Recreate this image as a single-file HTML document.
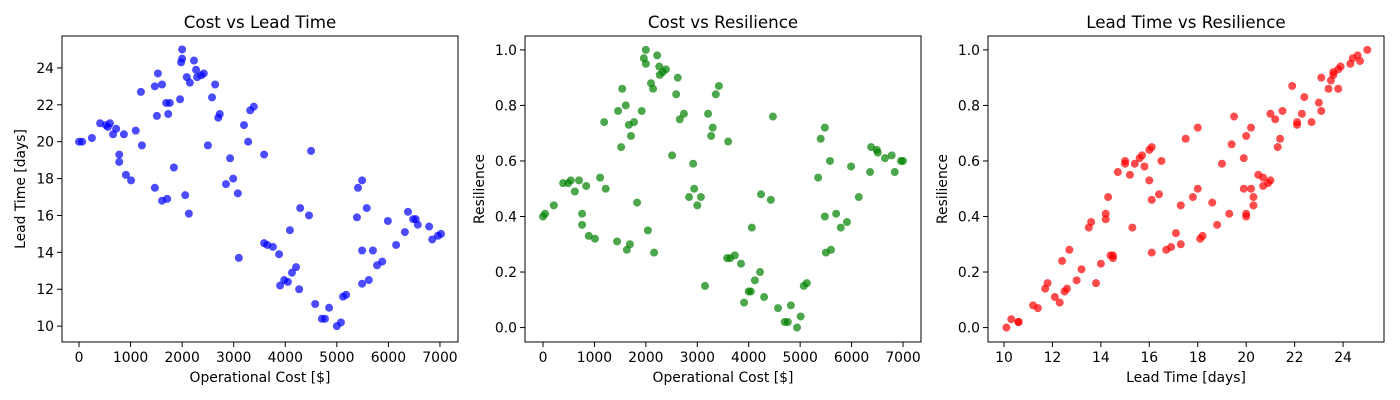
<!DOCTYPE html>
<html><head><meta charset="utf-8">
<style>
html,body{margin:0;padding:0;background:#fff;}
svg{display:block;font-family:"DejaVu Sans","Liberation Sans",sans-serif;}
</style></head>
<body>
<svg id="fig" width="1400" height="400" viewBox="0 0 1400 400"></svg>
<script>
// Panel 1: Cost vs Lead Time
const p1Cost=[0,60,250,410,520,600,560,660,720,780,780,870,910,1010,1100,1220,1200,1470,1510,1470,1530,1610,1610,1690,1710,1730,1760,1840,1960,2000,1980,2000,2060,2090,2130,2150,2230,2270,2290,2370,2420,2500,2580,2640,2700,2730,2850,2930,2990,3080,3100,3200,3280,3320,3390,3590,3590,3650,3760,3880,3900,3980,4050,4090,4130,4210,4270,4290,4460,4500,4580,4710,4770,4850,5000,5080,5120,5180,5390,5410,5490,5490,5490,5580,5620,5700,5780,5880,5990,6150,6320,6380,6480,6530,6570,6790,6850,6960,7020];
const p1Lead=[20.0,20.0,20.2,21.0,20.9,21.0,20.8,20.4,20.7,19.3,18.9,20.4,18.2,17.9,20.6,19.8,22.7,17.5,21.4,23.0,23.7,23.1,16.8,22.1,16.9,21.5,22.1,18.6,22.3,24.5,24.3,25.0,17.1,23.5,16.1,23.2,24.4,23.9,23.5,23.6,23.7,19.8,22.4,23.1,21.3,21.5,17.7,19.1,18.0,17.2,13.7,20.9,20.0,21.7,21.9,19.3,14.5,14.4,14.3,13.9,12.2,12.5,12.4,15.2,12.9,13.2,12.0,16.4,16.0,19.5,11.2,10.4,10.4,11.0,10.0,10.2,11.6,11.7,15.9,17.5,17.9,14.1,12.3,16.4,12.5,14.1,13.3,13.5,15.7,14.4,15.1,16.2,15.8,15.8,15.5,15.4,14.7,14.9,15.0];
// Panel 2: Cost vs Resilience
const p2Cost=[0,40,210,390,490,540,620,700,760,760,840,890,1010,1110,1220,1190,1440,1460,1520,1540,1610,1630,1670,1690,1710,1770,1830,1920,1960,2000,2000,2040,2100,2140,2160,2220,2260,2270,2330,2390,2510,2590,2620,2660,2740,2840,2920,2940,3000,3070,3150,3210,3270,3300,3360,3420,3600,3580,3640,3730,3850,3910,4000,4040,4060,4120,4220,4240,4300,4430,4470,4570,4700,4760,4820,4940,5010,5070,5130,5350,5400,5480,5480,5500,5580,5600,5700,5790,5910,5990,6140,6360,6380,6490,6510,6650,6780,6840,6960,7000];
const p2Res=[0.40,0.41,0.44,0.52,0.52,0.53,0.49,0.53,0.41,0.37,0.51,0.33,0.32,0.54,0.50,0.74,0.31,0.78,0.65,0.86,0.80,0.28,0.73,0.30,0.69,0.74,0.45,0.78,0.97,1.0,0.95,0.35,0.88,0.86,0.27,0.98,0.94,0.91,0.92,0.93,0.62,0.84,0.90,0.75,0.77,0.47,0.59,0.50,0.44,0.47,0.15,0.77,0.69,0.72,0.84,0.87,0.67,0.25,0.25,0.26,0.23,0.09,0.13,0.13,0.36,0.17,0.20,0.48,0.11,0.46,0.76,0.07,0.02,0.02,0.08,0.0,0.04,0.15,0.16,0.54,0.68,0.72,0.40,0.27,0.60,0.28,0.41,0.36,0.38,0.58,0.47,0.56,0.65,0.64,0.63,0.61,0.62,0.56,0.60,0.60];
// Panel 3: Lead Time vs Resilience
const p3Lead=[10.1,10.3,10.6,10.6,11.2,11.4,11.7,11.8,12.1,12.3,12.4,12.5,12.6,12.7,13.0,13.2,13.5,13.6,13.8,14.0,14.2,14.2,14.3,14.4,14.5,14.5,14.7,15.0,15.0,15.2,15.3,15.4,15.6,15.7,15.8,16.0,16.0,16.1,16.1,16.1,16.4,16.5,16.7,16.9,17.1,17.3,17.3,17.5,17.8,18.0,18.0,18.1,18.2,18.6,18.8,19.0,19.3,19.4,19.5,19.9,19.9,20.0,20.0,20.0,20.2,20.2,20.3,20.3,20.5,20.7,20.7,20.9,21.0,21.0,21.2,21.3,21.4,21.5,21.9,22.1,22.1,22.3,22.4,22.7,23.0,23.1,23.1,23.4,23.5,23.6,23.6,23.8,23.8,23.9,24.3,24.4,24.6,24.7,25.0];
const p3Res=[0.0,0.03,0.02,0.02,0.08,0.07,0.14,0.16,0.11,0.09,0.24,0.13,0.14,0.28,0.17,0.21,0.36,0.38,0.16,0.23,0.41,0.39,0.47,0.26,0.25,0.26,0.56,0.59,0.60,0.55,0.36,0.59,0.61,0.62,0.58,0.64,0.53,0.65,0.46,0.27,0.48,0.60,0.28,0.29,0.34,0.44,0.30,0.68,0.47,0.72,0.50,0.32,0.33,0.45,0.37,0.59,0.41,0.66,0.76,0.61,0.50,0.40,0.41,0.69,0.50,0.72,0.44,0.47,0.55,0.54,0.51,0.52,0.53,0.77,0.75,0.65,0.68,0.78,0.87,0.74,0.73,0.77,0.83,0.74,0.81,0.78,0.90,0.86,0.89,0.91,0.92,0.93,0.86,0.94,0.95,0.97,0.98,0.96,1.0];
const costTicks=[0,1000,2000,3000,4000,5000,6000,7000];
const leadTicks=[10,12,14,16,18,20,22,24];
const resTicks=[0.0,0.2,0.4,0.6,0.8,1.0];

const NS='http://www.w3.org/2000/svg';
const svg=document.getElementById('fig');
function mk(tag,attrs,parent){const e=document.createElementNS(NS,tag);for(const k in attrs)e.setAttribute(k,attrs[k]);(parent||svg).appendChild(e);return e;}

const axTop=36,axBot=342;
function panel(o){
  const g=mk('g',{});
  
  
  const sx=v=>o.left+(v-o.xmin)/(o.xmax-o.xmin)*(o.right-o.left);
  const sy=v=>axBot-(v-o.ymin)/(o.ymax-o.ymin)*(axBot-axTop);
  const pg=mk('g',{},g);
  
  
  for(let i=0;i<o.xs.length;i++){
    const c=mk('circle',{cx:sx(o.xs[i]),cy:sy(o.ys[i]),r:4,fill:o.color,'fill-opacity':0.7},pg);
    
    
  }
  const fr=mk('rect',{x:o.left,y:axTop,width:o.right-o.left,height:axBot-axTop,fill:'none',stroke:'#000','stroke-width':1},g);
  
  
  o.xt.forEach(v=>{
    const x=sx(v);
    mk('line',{x1:x,x2:x,y1:axBot,y2:axBot+5,stroke:'#000'},g);
    const t=mk('text',{x:x,y:axBot+20,'font-size':13.9,'text-anchor':'middle',fill:'#000'},g);
    t.textContent=o.xf(v);
    
    
  });
  o.yt.forEach(v=>{
    const y=sy(v);
    mk('line',{x1:o.left-5,x2:o.left,y1:y,y2:y,stroke:'#000'},g);
    const t=mk('text',{x:o.left-8,y:y+5,'font-size':13.9,'text-anchor':'end',fill:'#000'},g);
    t.textContent=o.yf(v);
    
    
  });
  const tt=mk('text',{x:(o.left+o.right)/2,y:28,'font-size':16.7,'text-anchor':'middle',fill:'#000'},g);
  tt.textContent=o.title;
  
  
  const xl=mk('text',{x:(o.left+o.right)/2,y:382,'font-size':13.9,'text-anchor':'middle',fill:'#000'},g);
  xl.textContent=o.xlabel;
  
  
  const yx=o.left-o.ylo, yy=(axTop+axBot)/2;
  const yl=mk('text',{x:yx,y:yy,'font-size':13.9,'text-anchor':'middle',fill:'#000',transform:'rotate(-90 '+yx+' '+yy+')'},g);
  yl.textContent=o.ylabel;
  
  
}
const fi=v=>String(v), f1=v=>v.toFixed(1);
panel({name:'cost-vs-lead-panel',left:62,right:458,xmin:-330,xmax:7350,ymin:9.14,ymax:25.73,xs:p1Cost,ys:p1Lead,color:'#0000ff',xt:costTicks,yt:leadTicks,xf:fi,yf:fi,title:'Cost vs Lead Time',xlabel:'Operational Cost [$]',ylabel:'Lead Time [days]',ylo:37});
panel({name:'cost-vs-resilience-panel',left:525,right:921,xmin:-350,xmax:7350,ymin:-0.052,ymax:1.05,xs:p2Cost,ys:p2Res,color:'#008000',xt:costTicks,yt:resTicks,xf:fi,yf:f1,title:'Cost vs Resilience',xlabel:'Operational Cost [$]',ylabel:'Resilience',ylo:41});
panel({name:'lead-vs-resilience-panel',left:988,right:1384,xmin:9.34,xmax:25.69,ymin:-0.052,ymax:1.05,xs:p3Lead,ys:p3Res,color:'#ff0000',xt:leadTicks,yt:resTicks,xf:fi,yf:f1,title:'Lead Time vs Resilience',xlabel:'Lead Time [days]',ylabel:'Resilience',ylo:41});
</script>
</body></html>
